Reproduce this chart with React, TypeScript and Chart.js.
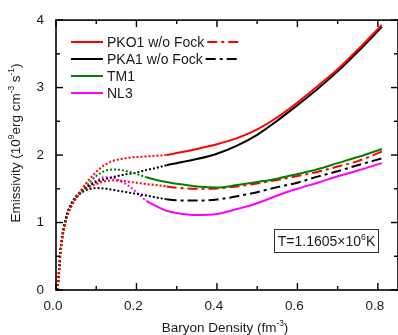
import React, { useEffect, useRef } from 'react';
import { Chart, registerables } from 'chart.js';

Chart.register(...registerables);

// Baryon density grid (fm^-3)
const density = [0.004, 0.008, 0.011, 0.015, 0.02, 0.03, 0.04, 0.05, 0.065, 0.08, 0.1, 0.12, 0.14, 0.16, 0.18, 0.2, 0.225, 0.25, 0.275, 0.3, 0.35, 0.4, 0.45, 0.5, 0.55, 0.6, 0.65, 0.7, 0.75, 0.81];

// Emissivity (10^9 erg cm^-3 s^-1)
const pko1 = [0, 0.3, 0.54, 0.74, 0.91, 1.13, 1.27, 1.37, 1.5, 1.62, 1.75, 1.85, 1.91, 1.94, 1.96, 1.97, 1.98, 1.99, 2.0, 2.03, 2.09, 2.16, 2.25, 2.38, 2.56, 2.78, 3.02, 3.27, 3.56, 3.93];
const pka1 = [0, 0.34, 0.58, 0.78, 0.95, 1.17, 1.3, 1.39, 1.48, 1.54, 1.6, 1.64, 1.67, 1.7, 1.72, 1.74, 1.78, 1.81, 1.85, 1.88, 1.94, 2.02, 2.14, 2.3, 2.51, 2.74, 2.98, 3.24, 3.53, 3.9];
const tm1 = [0, 0.3, 0.54, 0.74, 0.91, 1.13, 1.26, 1.36, 1.46, 1.57, 1.69, 1.76, 1.785, 1.78, 1.755, 1.72, 1.67, 1.63, 1.6, 1.575, 1.535, 1.52, 1.555, 1.6, 1.65, 1.72, 1.79, 1.88, 1.97, 2.09];
const nl3 = [0, 0.32, 0.56, 0.76, 0.93, 1.15, 1.28, 1.37, 1.47, 1.54, 1.62, 1.67, 1.665, 1.615, 1.545, 1.45, 1.32, 1.24, 1.175, 1.14, 1.11, 1.125, 1.2, 1.285, 1.4, 1.5, 1.59, 1.685, 1.77, 1.88];
const pko1NoFock = [0, 0.31, 0.55, 0.75, 0.92, 1.14, 1.27, 1.36, 1.46, 1.52, 1.57, 1.61, 1.625, 1.62, 1.605, 1.59, 1.57, 1.555, 1.535, 1.515, 1.5, 1.505, 1.535, 1.58, 1.63, 1.69, 1.75, 1.83, 1.91, 2.05];
const pka1NoFock = [0, 0.34, 0.58, 0.78, 0.95, 1.17, 1.3, 1.38, 1.45, 1.49, 1.51, 1.505, 1.485, 1.465, 1.445, 1.425, 1.4, 1.37, 1.345, 1.33, 1.325, 1.34, 1.39, 1.45, 1.525, 1.59, 1.68, 1.76, 1.85, 1.95];

// Density below which each curve is drawn dotted
const dottedBelow = { pko1: 0.275, pka1: 0.275, tm1: 0.225, nl3: 0.225, pko1NoFock: 0.275, pka1NoFock: 0.275 };

const xMajorTicks = [0, 0.2, 0.4, 0.6, 0.8];
const xMinorTicks = [0.1, 0.3, 0.5, 0.7];
const yMajorTicks = [0, 1, 2, 3, 4];
const yMinorTicks = [0.5, 1.5, 2.5, 3.5];

const RED = '#ff0000';
const BLACK = '#000000';
const GREEN = '#008000';
const MAGENTA = '#ff00ff';
const DOT = [2, 2];
const DASHDOT = [10, 4, 3, 4];
const FONT = "'Liberation Sans', Arial, sans-serif";
const TEXT = '#1a1a1a';

type Part = [string, boolean];

function richWidth(ctx: CanvasRenderingContext2D, parts: Part[], size: number) {
  let w = 0;
  for (const [t, sup] of parts) {
    ctx.font = `${sup ? size * 0.62 : size}px ${FONT}`;
    w += ctx.measureText(t).width;
  }
  return w;
}

function drawRich(ctx: CanvasRenderingContext2D, parts: Part[], x: number, y: number, size: number) {
  // x = left, y = baseline
  let cx = x;
  for (const [t, sup] of parts) {
    ctx.font = `${sup ? size * 0.62 : size}px ${FONT}`;
    ctx.fillText(t, cx, sup ? y - size * 0.42 : y);
    cx += ctx.measureText(t).width;
  }
}

function makeDataset(label: string, values: number[], color: string, main: number[], cut: number) {
  return {
    label,
    data: density.map((x, i) => ({ x, y: values[i] })),
    borderColor: color,
    backgroundColor: color,
    borderWidth: 2,
    borderDash: main,
    pointRadius: 0,
    fill: false,
    cubicInterpolationMode: 'monotone' as const,
    segment: {
      borderDash: (c: any) => (c.p0.parsed.x < cut - 1e-9 ? DOT : main),
    },
  };
}

const decorPlugin = {
  id: 'decor',
  afterDraw(chart: any) {
    const { ctx, chartArea } = chart;
    const { left, right, top, bottom } = chartArea;
    const xs = chart.scales.x;
    const ys = chart.scales.y;
    ctx.save();

    // frame
    ctx.strokeStyle = '#000';
    ctx.lineWidth = 1.6;
    ctx.setLineDash([]);
    ctx.strokeRect(left, top, right - left, bottom - top);

    // inward ticks
    ctx.lineWidth = 1.4;
    const tick = (x1: number, y1: number, x2: number, y2: number) => {
      ctx.beginPath();
      ctx.moveTo(x1, y1);
      ctx.lineTo(x2, y2);
      ctx.stroke();
    };
    for (const v of xMajorTicks) {
      const p = xs.getPixelForValue(v);
      tick(p, bottom, p, bottom - 7);
      tick(p, top, p, top + 7);
    }
    for (const v of xMinorTicks) {
      const p = xs.getPixelForValue(v);
      tick(p, bottom, p, bottom - 4);
      tick(p, top, p, top + 4);
    }
    for (const v of yMajorTicks) {
      const p = ys.getPixelForValue(v);
      tick(left, p, left + 7, p);
      tick(right, p, right - 7, p);
    }
    for (const v of yMinorTicks) {
      const p = ys.getPixelForValue(v);
      tick(left, p, left + 4, p);
      tick(right, p, right - 4, p);
    }

    ctx.fillStyle = TEXT;
    ctx.textBaseline = 'alphabetic';
    ctx.textAlign = 'left';

    // x title
    const xt: Part[] = [['Baryon Density (fm', false], ['-3', true], [')', false]];
    const xw = richWidth(ctx, xt, 13.5);
    drawRich(ctx, xt, 225 - xw / 2, 332, 13.5);

    // y title
    const yt: Part[] = [['Emissivity (10', false], ['9', true], ['erg cm', false], ['-3', true], [' s', false], ['-1', true], [')', false]];
    const yw = richWidth(ctx, yt, 13.5);
    ctx.save();
    ctx.translate(20, 143);
    ctx.rotate(-Math.PI / 2);
    drawRich(ctx, yt, -yw / 2, 0, 13.5);
    ctx.restore();

    // legend
    const legend = [
      { label: 'PKO1 w/o Fock', color: RED, extra: true },
      { label: 'PKA1 w/o Fock', color: BLACK, extra: true },
      { label: 'TM1', color: GREEN, extra: false },
      { label: 'NL3', color: MAGENTA, extra: false },
    ];
    ctx.font = `14px ${FONT}`;
    ctx.textBaseline = 'middle';
    legend.forEach((it, i) => {
      const y = 42 + i * 17;
      ctx.strokeStyle = it.color;
      ctx.lineWidth = 2;
      ctx.setLineDash([]);
      tick(71, y, 103, y);
      ctx.fillStyle = TEXT;
      ctx.fillText(it.label, 107, y + 1);
      if (it.extra) {
        const tw = ctx.measureText(it.label).width;
        ctx.setLineDash(DASHDOT);
        tick(107 + tw + 3, y, 107 + tw + 37, y);
        ctx.setLineDash([]);
      }
    });

    // annotation box
    ctx.strokeStyle = '#333';
    ctx.lineWidth = 1;
    ctx.strokeRect(274.5, 229.5, 104, 23);
    ctx.fillStyle = TEXT;
    ctx.textBaseline = 'alphabetic';
    const at: Part[] = [['T=1.1605×10', false], ['6', true], ['K', false]];
    const aw = richWidth(ctx, at, 14);
    drawRich(ctx, at, 326.5 - aw / 2, 246, 14);

    ctx.restore();
  },
};

export default function App() {
  const ref = useRef<HTMLCanvasElement | null>(null);
  useEffect(() => {
    if (!ref.current) return;
    const chart = new Chart(ref.current, {
      type: 'line',
      data: {
        datasets: [
          makeDataset('PKO1', pko1, RED, [], dottedBelow.pko1),
          makeDataset('TM1', tm1, GREEN, [], dottedBelow.tm1),
          makeDataset('PKA1', pka1, BLACK, [], dottedBelow.pka1),
          makeDataset('PKO1 w/o Fock', pko1NoFock, RED, DASHDOT, dottedBelow.pko1NoFock),
          makeDataset('PKA1 w/o Fock', pka1NoFock, BLACK, DASHDOT, dottedBelow.pka1NoFock),
          makeDataset('NL3', nl3, MAGENTA, [], dottedBelow.nl3),
        ] as any,
      },
      options: {
        animation: false,
        responsive: true,
        maintainAspectRatio: false,
        layout: { padding: { top: 13, left: 0, right: 0, bottom: 0 } },
        plugins: { legend: { display: false }, tooltip: { enabled: false } },
        scales: {
          x: {
            type: 'linear',
            min: 0,
            max: 0.85,
            grid: { display: false, drawTicks: false },
            border: { display: false },
            ticks: {
              stepSize: 0.2,
              includeBounds: false,
              padding: 8,
              labelOffset: -3,
              maxRotation: 0,
              autoSkip: false,
              color: TEXT,
              font: { size: 13.5, family: FONT },
              callback: (v: any) => Number(v).toFixed(1),
            },
            afterFit: (s: any) => {
              s.height = 45;
              s.paddingLeft = 0;
              s.paddingRight = 0;
            },
          },
          y: {
            type: 'linear',
            min: 0,
            max: 4,
            grid: { display: false, drawTicks: false },
            border: { display: false },
            ticks: {
              stepSize: 1,
              padding: 12,
              color: TEXT,
              font: { size: 13.5, family: FONT },
              callback: (v: any) => String(v),
            },
            afterFit: (s: any) => {
              s.width = 56;
            },
          },
        },
      } as any,
      plugins: [decorPlugin],
    });
    return () => chart.destroy();
  }, []);
  return (
    <div style={{ position: 'fixed', left: 0, top: 0, width: 398, height: 335, background: '#fff' }}>
      <canvas ref={ref} />
    </div>
  );
}
